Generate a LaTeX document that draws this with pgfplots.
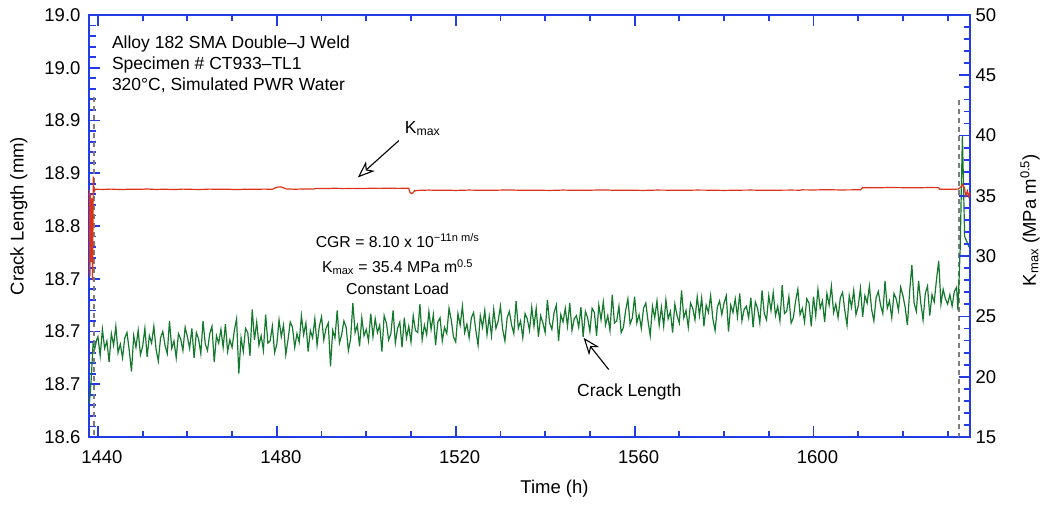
\documentclass[border=0pt]{standalone}
\usepackage{fontspec}
\setmainfont{Liberation Sans}
\usepackage{pgfplots}
\pgfplotsset{compat=1.18}
\usetikzlibrary{arrows.meta}
\definecolor{axblue}{RGB}{35,60,230}
\definecolor{cgreen}{RGB}{20,120,45}
\definecolor{cred}{RGB}{220,50,25}
\definecolor{dgray}{RGB}{125,125,125}
\begin{document}
\begin{tikzpicture}
\useasboundingbox (-89pt,-67pt) rectangle (959pt,437pt);
\begin{axis}[
  at={(0pt,0pt)}, anchor=south west,
  scale only axis, width=881pt, height=422pt,
  xmin=1438, xmax=1635, ymin=18.6, ymax=19.0,
  axis line style={axblue, line width=2pt},
  every tick/.style={axblue, line width=1.8pt},
  tick align=inside,
  major tick length=11pt, minor tick length=6.5pt,
  xtick={1440,1480,1520,1560,1600},
  minor xtick={1450,1460,1470,1490,1500,1510,1530,1540,1550,1570,1580,1590,1610,1620,1630},
  ytick={18.6,18.65,18.7,18.75,18.8,18.85,18.9,18.95,19.0},
  yticklabels={18.6,18.7,18.7,18.7,18.8,18.9,18.9,19.0,19.0},
  minor y tick num=4,
  ytick pos=left, xtick pos=both, xticklabel pos=lower,
  tick label style={font=\fontsize{18.5}{22}\selectfont, black},
  xticklabel style={yshift=-10pt, xshift=4pt},
  yticklabel style={xshift=-5pt},
  /pgf/number format/assume math mode=true,
  /pgf/number format/1000 sep={},
  xlabel={Time (h)}, ylabel={Crack Length (mm)},
  label style={font=\fontsize{18.5}{22}\selectfont},
  xlabel style={at={(axis description cs:0.5284,-0.1232)}, anchor=center},
  ylabel style={at={(axis description cs:-0.0795,0.5237)}, anchor=center},
]
\addplot[dgray, line width=2pt, dash pattern=on 5pt off 4pt] coordinates {(1439.1,18.922) (1439.1,18.6)};
\addplot[dgray, line width=2pt, dash pattern=on 5pt off 4pt] coordinates {(1632.6,18.919) (1632.6,18.6)};
\addplot[cgreen, line width=1.2pt] coordinates {
(1438.1,18.632) (1438.5,18.655) (1438.9,18.688) (1439.3,18.684) (1439.7,18.692)
(1440.0,18.695) (1440.5,18.677) (1441.0,18.702) (1441.5,18.684) (1442.0,18.691)
(1442.5,18.671) (1443.0,18.698) (1443.5,18.687) (1444.0,18.705) (1444.5,18.680)
(1445.0,18.688) (1445.5,18.675) (1446.0,18.694) (1446.5,18.699) (1447.0,18.682)
(1447.5,18.662) (1448.0,18.696) (1448.5,18.685) (1449.0,18.701) (1449.5,18.678)
(1450.0,18.686) (1450.5,18.703) (1451.0,18.676) (1451.5,18.696) (1452.0,18.689)
(1452.5,18.705) (1453.0,18.683) (1453.5,18.672) (1454.0,18.694) (1454.5,18.700)
(1455.0,18.687) (1455.5,18.679) (1456.0,18.710) (1456.5,18.684) (1457.0,18.691)
(1457.5,18.675) (1458.0,18.698) (1458.5,18.693) (1459.0,18.682) (1459.5,18.704)
(1460.0,18.695) (1460.5,18.684) (1461.0,18.703) (1461.5,18.675) (1462.0,18.699)
(1462.5,18.693) (1463.0,18.679) (1463.5,18.710) (1464.0,18.688) (1464.5,18.682)
(1465.0,18.698) (1465.5,18.705) (1466.0,18.671) (1466.5,18.696) (1467.0,18.689)
(1467.5,18.702) (1468.0,18.685) (1468.5,18.707) (1469.0,18.681) (1469.5,18.692)
(1470.0,18.685) (1470.5,18.701) (1471.0,18.712) (1471.5,18.660) (1472.0,18.694)
(1472.5,18.681) (1473.0,18.703) (1473.5,18.699) (1474.0,18.677) (1474.5,18.721)
(1475.0,18.692) (1475.5,18.709) (1476.0,18.687) (1476.5,18.696) (1477.0,18.682)
(1477.5,18.716) (1478.0,18.689) (1478.5,18.691) (1479.0,18.705) (1479.5,18.680)
(1480.0,18.688) (1480.5,18.711) (1481.0,18.695) (1481.5,18.706) (1482.0,18.678)
(1482.5,18.692) (1483.0,18.709) (1483.5,18.704) (1484.0,18.685) (1484.5,18.698)
(1485.0,18.690) (1485.5,18.715) (1486.0,18.697) (1486.5,18.708) (1487.0,18.681)
(1487.5,18.701) (1488.0,18.694) (1488.5,18.712) (1489.0,18.687) (1489.5,18.705)
(1490.0,18.714) (1490.5,18.692) (1491.0,18.703) (1491.5,18.708) (1492.0,18.667)
(1492.5,18.701) (1493.0,18.694) (1493.5,18.720) (1494.0,18.689) (1494.5,18.697)
(1495.0,18.710) (1495.5,18.704) (1496.0,18.682) (1496.5,18.693) (1497.0,18.727)
(1497.5,18.699) (1498.0,18.706) (1498.5,18.686) (1499.0,18.713) (1499.5,18.696)
(1500.0,18.702) (1500.5,18.691) (1501.0,18.717) (1501.5,18.695) (1502.0,18.712)
(1502.5,18.699) (1503.0,18.706) (1503.5,18.681) (1504.0,18.715) (1504.5,18.708)
(1505.0,18.692) (1505.5,18.698) (1506.0,18.720) (1506.5,18.689) (1507.0,18.703)
(1507.5,18.709) (1508.0,18.685) (1508.5,18.713) (1509.0,18.694) (1509.5,18.705)
(1510.0,18.690) (1510.5,18.715) (1511.0,18.701) (1511.5,18.699) (1512.0,18.726)
(1512.5,18.692) (1513.0,18.706) (1513.5,18.697) (1514.0,18.719) (1514.5,18.702)
(1515.0,18.716) (1515.5,18.687) (1516.0,18.709) (1516.5,18.713) (1517.0,18.691)
(1517.5,18.704) (1518.0,18.698) (1518.5,18.722) (1519.0,18.711) (1519.5,18.695)
(1520.0,18.690) (1520.5,18.717) (1521.0,18.706) (1521.5,18.724) (1522.0,18.699)
(1522.5,18.707) (1523.0,18.694) (1523.5,18.713) (1524.0,18.718) (1524.5,18.701)
(1525.0,18.687) (1525.5,18.715) (1526.0,18.704) (1526.5,18.720) (1527.0,18.697)
(1527.5,18.714) (1528.0,18.696) (1528.5,18.721) (1529.0,18.703) (1529.5,18.710)
(1530.0,18.724) (1530.5,18.702) (1531.0,18.691) (1531.5,18.713) (1532.0,18.719)
(1532.5,18.706) (1533.0,18.698) (1533.5,18.729) (1534.0,18.703) (1534.5,18.710)
(1535.0,18.694) (1535.5,18.717) (1536.0,18.712) (1536.5,18.701) (1537.0,18.723)
(1537.5,18.705) (1538.0,18.722) (1538.5,18.695) (1539.0,18.715) (1539.5,18.708)
(1540.0,18.699) (1540.5,18.730) (1541.0,18.708) (1541.5,18.702) (1542.0,18.718)
(1542.5,18.725) (1543.0,18.691) (1543.5,18.716) (1544.0,18.709) (1544.5,18.722)
(1545.0,18.705) (1545.5,18.727) (1546.0,18.701) (1546.5,18.712) (1547.0,18.715)
(1547.5,18.704) (1548.0,18.723) (1548.5,18.695) (1549.0,18.719) (1549.5,18.713)
(1550.0,18.700) (1550.5,18.722) (1551.0,18.718) (1551.5,18.696) (1552.0,18.725)
(1552.5,18.711) (1553.0,18.728) (1553.5,18.706) (1554.0,18.715) (1554.5,18.701)
(1555.0,18.735) (1555.5,18.708) (1556.0,18.710) (1556.5,18.724) (1557.0,18.699)
(1557.5,18.704) (1558.0,18.720) (1558.5,18.731) (1559.0,18.707) (1559.5,18.713)
(1560.0,18.733) (1560.5,18.708) (1561.0,18.716) (1561.5,18.703) (1562.0,18.722)
(1562.5,18.727) (1563.0,18.710) (1563.5,18.696) (1564.0,18.724) (1564.5,18.713)
(1565.0,18.729) (1565.5,18.706) (1566.0,18.723) (1566.5,18.705) (1567.0,18.730)
(1567.5,18.712) (1568.0,18.719) (1568.5,18.699) (1569.0,18.726) (1569.5,18.715)
(1570.0,18.708) (1570.5,18.739) (1571.0,18.713) (1571.5,18.720) (1572.0,18.704)
(1572.5,18.727) (1573.0,18.722) (1573.5,18.711) (1574.0,18.733) (1574.5,18.715)
(1575.0,18.732) (1575.5,18.705) (1576.0,18.725) (1576.5,18.718) (1577.0,18.734)
(1577.5,18.712) (1578.0,18.701) (1578.5,18.723) (1579.0,18.729) (1579.5,18.716)
(1580.0,18.727) (1580.5,18.734) (1581.0,18.700) (1581.5,18.725) (1582.0,18.718)
(1582.5,18.731) (1583.0,18.714) (1583.5,18.736) (1584.0,18.710) (1584.5,18.721)
(1585.0,18.724) (1585.5,18.713) (1586.0,18.732) (1586.5,18.704) (1587.0,18.728)
(1587.5,18.722) (1588.0,18.708) (1588.5,18.739) (1589.0,18.717) (1589.5,18.711)
(1590.0,18.734) (1590.5,18.720) (1591.0,18.737) (1591.5,18.715) (1592.0,18.724)
(1592.5,18.710) (1593.0,18.744) (1593.5,18.717) (1594.0,18.719) (1594.5,18.733)
(1595.0,18.708) (1595.5,18.713) (1596.0,18.729) (1596.5,18.740) (1597.0,18.716)
(1597.5,18.722) (1598.0,18.709) (1598.5,18.731) (1599.0,18.727) (1599.5,18.705)
(1600.0,18.733) (1600.5,18.715) (1601.0,18.740) (1601.5,18.722) (1602.0,18.729)
(1602.5,18.709) (1603.0,18.736) (1603.5,18.725) (1604.0,18.743) (1604.5,18.718)
(1605.0,18.726) (1605.5,18.713) (1606.0,18.732) (1606.5,18.737) (1607.0,18.720)
(1607.5,18.706) (1608.0,18.734) (1608.5,18.723) (1609.0,18.739) (1609.5,18.716)
(1610.0,18.724) (1610.5,18.741) (1611.0,18.714) (1611.5,18.734) (1612.0,18.727)
(1612.5,18.743) (1613.0,18.721) (1613.5,18.710) (1614.0,18.732) (1614.5,18.738)
(1615.0,18.725) (1615.5,18.717) (1616.0,18.748) (1616.5,18.722) (1617.0,18.729)
(1617.5,18.713) (1618.0,18.736) (1618.5,18.731) (1619.0,18.720) (1619.5,18.742)
(1620.0,18.734) (1620.5,18.723) (1621.0,18.706) (1621.5,18.738) (1622.0,18.763)
(1622.5,18.727) (1623.0,18.719) (1623.5,18.748) (1624.0,18.727) (1624.5,18.711)
(1625.0,18.736) (1625.5,18.743) (1626.0,18.715) (1626.5,18.735) (1627.0,18.728)
(1627.5,18.749) (1628.0,18.767) (1628.5,18.726) (1629.0,18.740) (1629.5,18.731)
(1630.0,18.726) (1630.5,18.735) (1631.0,18.724) (1631.5,18.738) (1632.0,18.742)
(1632.3,18.720) (1632.8,18.778) (1633.3,18.886) (1633.8,18.790) (1634.8,18.780)
};
\node[font=\fontsize{17.5}{21}\selectfont, align=left, anchor=north west, inner sep=0pt]
  at (axis cs:1443.1,18.980) {Alloy 182 SMA Double–J Weld\\Specimen \# CT933–TL1\\320°C, Simulated PWR Water};
\node[font=\fontsize{17.5}{21}\selectfont, anchor=base west, inner sep=0pt]
  at (axis cs:1508.6,18.888) {K\textsubscript{max}};
\draw[black, line width=1.1pt, -{Stealth[open, length=17pt, width=13pt, inset=5pt]}]
  (axis cs:1507.3,18.881) -- (axis cs:1498.1,18.846);
\node[font=\fontsize{15.8}{19}\selectfont, anchor=base, inner sep=0pt]
  at (axis cs:1507,18.780) {CGR = 8.10 x 10\textsuperscript{−11n m/s}};
\node[font=\fontsize{15.8}{19}\selectfont, anchor=base, inner sep=0pt]
  at (axis cs:1507,18.756) {K\textsubscript{max} = 35.4 MPa m\textsuperscript{0.5}};
\node[font=\fontsize{15.8}{19}\selectfont, anchor=base, inner sep=0pt]
  at (axis cs:1507,18.735) {Constant Load};
\node[font=\fontsize{17.5}{21}\selectfont, anchor=base, inner sep=0pt]
  at (axis cs:1558.8,18.638) {Crack Length};
\draw[black, line width=1.1pt, -{Stealth[open, length=17pt, width=13pt, inset=5pt]}]
  (axis cs:1554.2,18.664) -- (axis cs:1548.6,18.694);
\end{axis}
\begin{axis}[
  at={(0pt,0pt)}, anchor=south west,
  scale only axis, width=881pt, height=422pt,
  xmin=1438, xmax=1635, ymin=15, ymax=50,
  axis y line*=right, axis x line=none,
  axis line style={axblue, line width=2pt},
  every tick/.style={axblue, line width=1.8pt},
  tick align=inside,
  major tick length=11pt, minor tick length=6.5pt,
  ytick={15,20,25,30,35,40,45,50},
  minor y tick num=4,
  tick label style={font=\fontsize{18.5}{22}\selectfont, black},
  yticklabel style={xshift=2pt},
  /pgf/number format/assume math mode=true,
  ylabel={K\textsubscript{max} (MPa m\textsuperscript{0.5})},
  label style={font=\fontsize{18.5}{22}\selectfont},
  ylabel style={at={(axis description cs:1.0681,0.514)}, anchor=center, rotate=0},
]
\addplot[cred, line width=1.2pt] coordinates {
(1438.05,35.5) (1438.2,28.3) (1438.35,35.2) (1438.5,29.5) (1438.65,34.8) (1438.8,28.0)
(1438.95,36.6) (1439.1,35.3) (1439.4,35.55) (1441,35.53) (1443,35.56) (1445,35.52)
(1447,35.55) (1449,35.54) (1451,35.57) (1453,35.53) (1455,35.55) (1457,35.52)
(1459,35.56) (1461,35.54) (1463,35.53) (1465,35.56) (1467,35.54) (1469,35.55)
(1471,35.52) (1473,35.55) (1475,35.54) (1477,35.56) (1479,35.55) (1480,35.72)
(1481,35.74) (1482,35.58) (1484,35.55) (1486,35.57) (1488,35.56) (1489,35.62)
(1491,35.61) (1493,35.63) (1495,35.60) (1497,35.62) (1499,35.61) (1501,35.63)
(1503,35.62) (1505,35.64) (1507,35.62) (1509.5,35.63) (1509.8,35.25) (1510.3,35.20)
(1510.8,35.42) (1512,35.46) (1514,35.48) (1516,35.46) (1518,35.47) (1520,35.45)
(1523,35.48) (1526,35.46) (1529,35.47) (1532,35.49) (1535,35.46) (1538,35.47)
(1541,35.45) (1544,35.48) (1547,35.46) (1550,35.47) (1553,35.49) (1556,35.46)
(1559,35.47) (1562,35.45) (1565,35.48) (1568,35.47) (1571,35.46) (1574,35.48)
(1577,35.47) (1580,35.45) (1583,35.47) (1586,35.48) (1589,35.46) (1592,35.47)
(1595,35.48) (1597,35.47) (1597.5,35.50) (1600,35.49) (1603,35.51) (1606,35.49)
(1609,35.50) (1610.5,35.50) (1611,35.68) (1614,35.67) (1617,35.69) (1620,35.68)
(1623,35.67) (1626,35.69) (1628,35.68) (1628.2,35.55) (1630,35.54) (1632.4,35.56)
(1633.0,35.75) (1633.3,35.95) (1633.7,35.70) (1634.1,35.00) (1634.4,35.40)
(1634.7,34.95) (1635,35.30)
};
\end{axis}
\end{tikzpicture}
\end{document}
